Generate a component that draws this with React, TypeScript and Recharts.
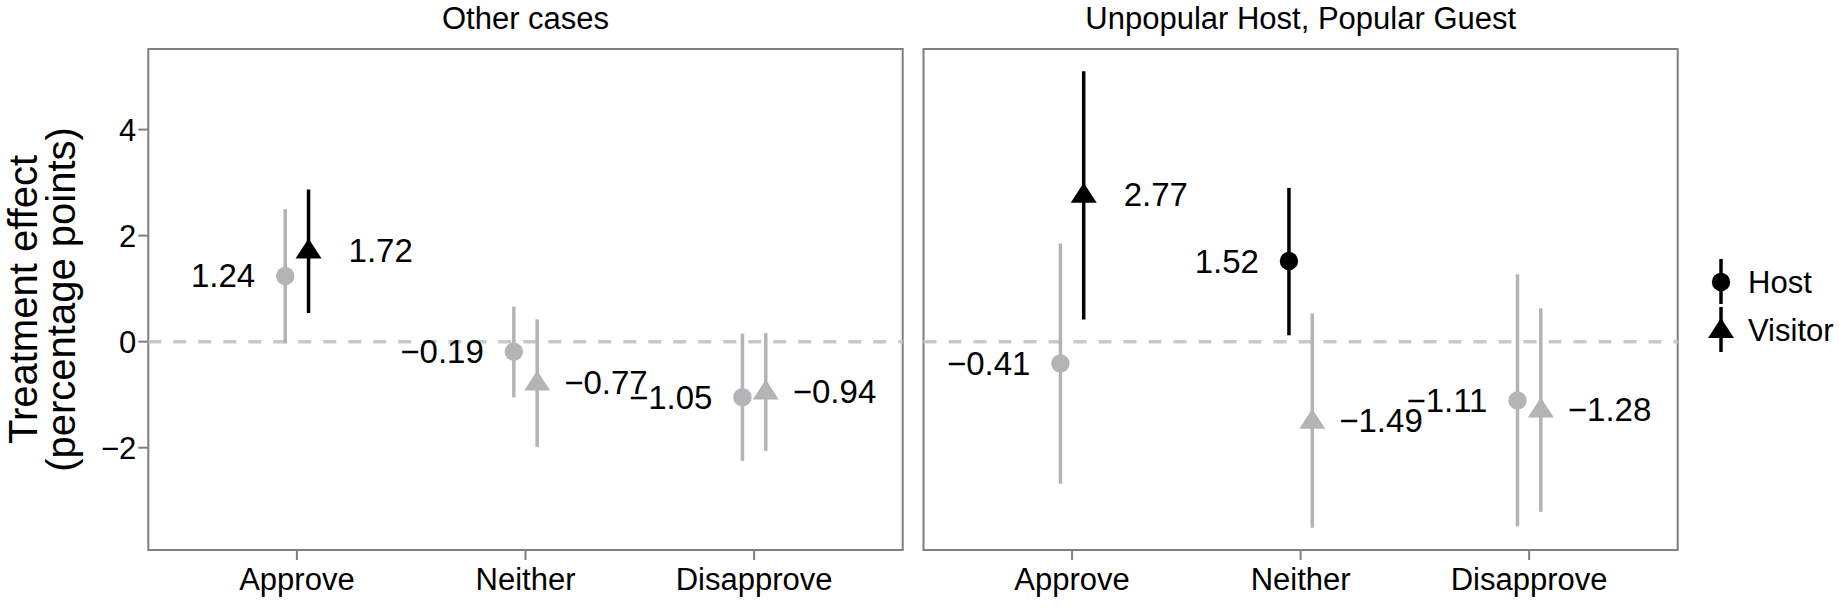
import React from "react";
import {
  ScatterChart,
  Scatter,
  XAxis,
  YAxis,
  ErrorBar,
  ReferenceLine,
  ReferenceArea,
  Legend,
  Label,
} from "recharts";

const FONT = "'Liberation Sans', Arial, Helvetica, sans-serif";
const BLACK = "#000000";
const GREY = "#b4b4b7";
const FRAME = "#7f7f7f";

const categories = ["Approve", "Neither", "Disapprove"];
const panelTitles = ["Other cases", "Unpopular Host, Popular Guest"];
const groups = ["Host", "Visitor"];
const yTicks = [-2, 0, 2, 4];

// Other cases: estimates and 95% CI bounds (percentage points)
const otherHost = [1.24, -0.19, -1.05];
const otherHostLow = [-0.03, -1.05, -2.25];
const otherHostHigh = [2.5, 0.66, 0.15];
const otherVisitor = [1.72, -0.77, -0.94];
const otherVisitorLow = [0.54, -1.99, -2.06];
const otherVisitorHigh = [2.87, 0.42, 0.16];

// Unpopular Host, Popular Guest
const unpopHost = [-0.41, 1.52, -1.11];
const unpopHostLow = [-2.68, 0.12, -3.48];
const unpopHostHigh = [1.85, 2.9, 1.27];
const unpopVisitor = [2.77, -1.49, -1.28];
const unpopVisitorLow = [0.42, -3.51, -3.21];
const unpopVisitorHigh = [5.1, 0.53, 0.63];

const X_DOMAIN: [number, number] = [0.35, 3.65];
const Y_DOMAIN: [number, number] = [-3.93, 5.52];
const DODGE = 0.051;

type Pt = {
  x: number;
  y: number;
  err: [number, number];
  group: string;
  sig: boolean;
};

function buildPoints(est: number[], low: number[], high: number[], group: string, shift: number): Pt[] {
  return est.map((v, i) => ({
    x: i + 1 + shift,
    y: v,
    err: [v - low[i], high[i] - v],
    group,
    sig: low[i] > 0 || high[i] < 0,
  }));
}

const panelPoints: Pt[][] = [
  [
    ...buildPoints(otherHost, otherHostLow, otherHostHigh, "Host", -DODGE),
    ...buildPoints(otherVisitor, otherVisitorLow, otherVisitorHigh, "Visitor", DODGE),
  ],
  [
    ...buildPoints(unpopHost, unpopHostLow, unpopHostHigh, "Host", -DODGE),
    ...buildPoints(unpopVisitor, unpopVisitorLow, unpopVisitorHigh, "Visitor", DODGE),
  ],
];

const fmt = (v: number) => v.toFixed(2).replace("-", "\u2212");
const fmtTick = (v: number) => String(v).replace("-", "\u2212");

// point + value label; host labels sit left, visitor labels right
// (positive visitor labels carry a padding space like R's format())
function PointMark(props: any) {
  const { cx, cy, payload } = props;
  const color = payload.sig ? BLACK : GREY;
  const textProps = { fontSize: 33, fontFamily: FONT, fill: BLACK, dy: "0.35em" };
  if (payload.group === "Host") {
    return (
      <g>
        <circle cx={cx} cy={cy} r={9.2} fill={color} />
        <text x={cx - 30} y={cy} textAnchor="end" {...textProps}>
          {fmt(payload.y)}
        </text>
      </g>
    );
  }
  const pad = payload.y >= 0 ? 13 : 0;
  return (
    <g>
      <polygon points={`${cx},${cy - 12} ${cx - 13},${cy + 8} ${cx + 13},${cy + 8}`} fill={color} />
      <text x={cx + 27 + pad} y={cy} textAnchor="start" {...textProps}>
        {fmt(payload.y)}
      </text>
    </g>
  );
}

function AxisTitle(props: any) {
  const cy = props.viewBox.y + props.viewBox.height / 2;
  const x = 37;
  return (
    <text
      x={x}
      y={cy}
      transform={`rotate(-90 ${x} ${cy})`}
      textAnchor="middle"
      fontSize={40}
      fontFamily={FONT}
      fill={BLACK}
    >
      <tspan x={x}>Treatment effect</tspan>
      <tspan x={x} dy={38}>(percentage points)</tspan>
    </text>
  );
}

function LegendBox() {
  return (
    <svg width={140} height={120}>
      {groups.map((g, i) => {
        const cy = 32 + i * 48;
        return (
          <g key={g}>
            <line x1={21} x2={21} y1={cy - 23} y2={cy + 22} stroke={BLACK} strokeWidth={3.5} />
            {g === "Host" ? (
              <circle cx={21} cy={cy} r={9.2} fill={BLACK} />
            ) : (
              <polygon points={`21,${cy - 12} 8,${cy + 8} 34,${cy + 8}`} fill={BLACK} />
            )}
            <text x={48} y={cy} dy="0.35em" fontSize={31} fontFamily={FONT} fill={BLACK}>
              {g}
            </text>
          </g>
        );
      })}
    </svg>
  );
}

function Panel({ idx }: { idx: number }) {
  const first = idx === 0;
  const width = first ? 910 : 929;
  const margin = first
    ? { top: 49, right: 7.3, bottom: 0, left: 0 }
    : { top: 49, right: 161.3, bottom: 0, left: 13.5 };
  return (
    <ScatterChart width={width} height={608} margin={margin}>
      <XAxis
        type="number"
        dataKey="x"
        domain={X_DOMAIN}
        ticks={[1, 2, 3]}
        interval={0}
        allowDataOverflow
        tickFormatter={(v: number) => categories[Math.round(v) - 1]}
        axisLine={false}
        tickSize={10}
        tickMargin={8}
        tickLine={{ stroke: FRAME, strokeWidth: 2 }}
        tick={{ fill: BLACK, fontSize: 31, fontFamily: FONT }}
        height={58}
      />
      <YAxis
        type="number"
        dataKey="y"
        domain={Y_DOMAIN}
        ticks={yTicks}
        allowDataOverflow
        hide={!first}
        width={148.3}
        axisLine={false}
        tickSize={10}
        tickMargin={2}
        tickFormatter={fmtTick}
        tickLine={{ stroke: FRAME, strokeWidth: 2 }}
        tick={{ fill: BLACK, fontSize: 31, fontFamily: FONT }}
      >
        {first && <Label content={AxisTitle} />}
      </YAxis>
      <ReferenceArea
        x1={X_DOMAIN[0]}
        x2={X_DOMAIN[1]}
        y1={Y_DOMAIN[0]}
        y2={Y_DOMAIN[1]}
        fill="none"
        fillOpacity={0}
        stroke={FRAME}
        strokeWidth={2}
        strokeOpacity={1}
        ifOverflow="visible"
      />
      <ReferenceLine y={0} stroke="#c9c9c9" strokeWidth={3.5} strokeDasharray="13 12" />
      {panelPoints[idx].map((p, i) => (
        <Scatter
          key={i}
          name={p.group}
          data={[p]}
          fill={p.sig ? BLACK : GREY}
          shape={PointMark}
          isAnimationActive={false}
        >
          <ErrorBar
            dataKey="err"
            direction="y"
            width={0}
            stroke={p.sig ? BLACK : GREY}
            strokeWidth={3.5}
            isAnimationActive={false}
          />
        </Scatter>
      ))}
      {!first && (
        <Legend
          layout="vertical"
          align="center"
          verticalAlign="middle"
          wrapperStyle={{ left: 790, top: 250, width: 140, height: 120 }}
          content={LegendBox}
        />
      )}
    </ScatterChart>
  );
}

export default function App() {
  return (
    <div
      style={{
        position: "absolute",
        left: 0,
        top: 0,
        width: 1839,
        height: 608,
        background: "#fff",
        fontFamily: FONT,
      }}
    >
      {panelTitles.map((t, i) => (
        <div
          key={t}
          style={{
            position: "absolute",
            top: 3,
            left: i === 0 ? 148.3 : 923.5,
            width: 754.4,
            textAlign: "center",
            fontSize: 31,
            lineHeight: 1,
            color: BLACK,
          }}
        >
          {t}
        </div>
      ))}
      <div style={{ position: "absolute", left: 0, top: 0 }}>
        <Panel idx={0} />
      </div>
      <div style={{ position: "absolute", left: 910, top: 0 }}>
        <Panel idx={1} />
      </div>
    </div>
  );
}
